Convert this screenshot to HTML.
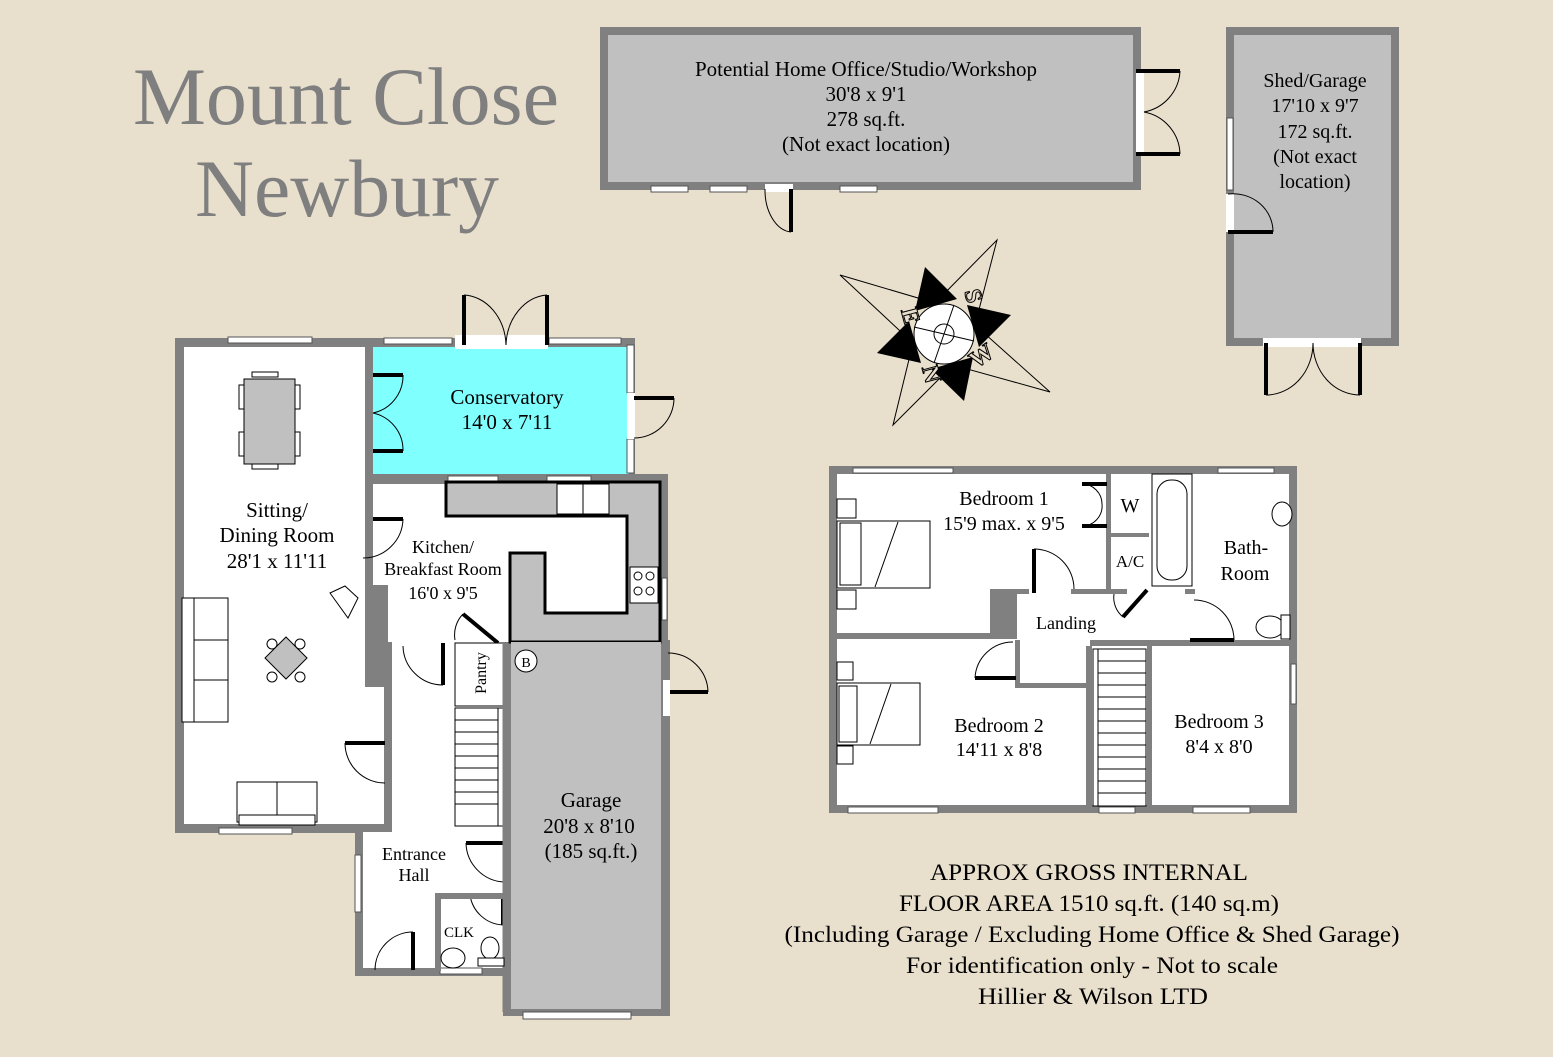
<!DOCTYPE html>
<html><head><meta charset="utf-8"><style>
html,body{margin:0;padding:0;background:#e8dfcd;}
svg{display:block}
text{font-family:"Liberation Serif",serif;fill:#000}
</style></head><body>
<svg width="1553" height="1057" viewBox="0 0 1553 1057" xmlns="http://www.w3.org/2000/svg">
<rect width="1553" height="1057" fill="#e8dfcd"/>
<text x="346" y="124" font-size="82" text-anchor="middle" style="fill:#7f7f7f" textLength="426" lengthAdjust="spacingAndGlyphs">Mount Close</text>
<text x="347" y="216" font-size="82" text-anchor="middle" style="fill:#7f7f7f" textLength="304" lengthAdjust="spacingAndGlyphs">Newbury</text>

<!-- Office -->
<rect x="604" y="31" width="533" height="155" fill="#c0c0c0" stroke="#808080" stroke-width="8"/>
<g fill="#fff" stroke="#555" stroke-width="1">
<rect x="651" y="186" width="37" height="6"/><rect x="710" y="186" width="37" height="6"/><rect x="840" y="186" width="37" height="6"/>
</g>
<rect x="765" y="184" width="28" height="8" fill="#fff"/>
<rect x="1136" y="71" width="8" height="84" fill="#fff"/>
<g stroke="#000" stroke-width="4"><line x1="1136" y1="71" x2="1180" y2="71"/><line x1="1136" y1="154" x2="1180" y2="154"/>
<line x1="791" y1="189" x2="791" y2="232"/></g>
<g fill="none" stroke="#000" stroke-width="1"><path d="M1180 71 A44 44 0 0 1 1144 112 A44 44 0 0 1 1180 154"/>
<path d="M765 189 A28 42 0 0 0 791 232"/></g>
<g font-size="21" text-anchor="middle">
<text x="866" y="76">Potential Home Office/Studio/Workshop</text>
<text x="866" y="101">30'8 x 9'1</text>
<text x="866" y="126">278 sq.ft.</text>
<text x="866" y="151">(Not exact location)</text>
</g>

<!-- Shed -->
<rect x="1230" y="31" width="165" height="311" fill="#c0c0c0" stroke="#808080" stroke-width="8"/>
<rect x="1227" y="118" width="6" height="72" fill="#fff" stroke="#555" stroke-width="1"/>
<rect x="1226" y="194" width="8" height="38" fill="#fff"/>
<line x1="1228" y1="232" x2="1273" y2="232" stroke="#000" stroke-width="4"/>
<path d="M1228 194 A40 38 0 0 1 1273 232" fill="none" stroke="#000"/>
<rect x="1263" y="338" width="98" height="9" fill="#fff"/>
<g stroke="#000" stroke-width="4"><line x1="1266" y1="343" x2="1266" y2="395"/><line x1="1360" y1="343" x2="1360" y2="395"/></g>
<path d="M1266 395 A47 52 0 0 0 1313 343 A47 52 0 0 0 1360 395" fill="none" stroke="#000"/>
<g font-size="20" text-anchor="middle">
<text x="1315" y="87">Shed/Garage</text>
<text x="1315" y="112">17'10 x 9'7</text>
<text x="1315" y="138">172 sq.ft.</text>
<text x="1315" y="163">(Not exact</text>
<text x="1315" y="188">location)</text>
</g>

<!-- Compass -->
<polygon points="997,240 975,325 1050,392 953,365 893,425 913,343 840,275 935,303" fill="#e8dfcd"/>
<g fill="#000">
<polygon points="925,267 957,299 915,311"/>
<polygon points="1011,315 979,347 967,305"/>
<polygon points="964,401 931,369 973,357"/>
<polygon points="877,353 909,321 921,363"/>
</g>
<polygon points="997,240 975,325 1050,392 953,365 893,425 913,343 840,275 935,303" fill="none" stroke="#000" stroke-width="1"/>
<g stroke="#000" stroke-width="1">
<circle cx="944" cy="334" r="30" fill="#fff"/>
<circle cx="944" cy="334" r="10" fill="none"/>
<line x1="914" y1="327" x2="974" y2="341"/><line x1="954" y1="305" x2="934" y2="363"/>
</g>
<g font-size="24" font-weight="bold" text-anchor="middle">
<text x="966" y="298" transform="rotate(75 966 298)" style="fill:#e8dfcd;stroke:#000;stroke-width:1">S</text>
<text x="903" y="318" transform="rotate(75 903 318)" style="fill:#e8dfcd;stroke:#000;stroke-width:1">E</text>
<text x="924" y="376" transform="rotate(75 924 376)" style="fill:#e8dfcd;stroke:#000;stroke-width:1">N</text>
<text x="986" y="362" transform="rotate(-35 986 362)" style="fill:#e8dfcd;stroke:#000;stroke-width:1">W</text>
</g>

<!-- GROUND FLOOR -->
<g fill="#808080">
<rect x="175" y="338" width="200" height="494"/>
<rect x="175" y="824" width="217" height="9"/>
<rect x="365" y="338" width="270" height="10"/>
<rect x="365" y="474" width="300" height="10"/>
<rect x="655" y="474" width="13" height="170"/>
<rect x="355" y="828" width="8" height="147"/>
<rect x="355" y="968" width="155" height="8"/>
<rect x="503" y="640" width="167" height="376"/>
<rect x="365" y="585" width="27" height="248"/>
</g>
<rect x="184" y="347" width="181" height="477" fill="#fff"/>
<rect x="184" y="687" width="200" height="137" fill="#fff"/>
<rect x="373" y="484" width="282" height="101" fill="#fff"/>
<rect x="388" y="585" width="267" height="57" fill="#fff"/>
<rect x="392" y="640" width="113" height="192" fill="#fff"/>
<rect x="363" y="832" width="142" height="136" fill="#fff"/>
<rect x="365" y="585" width="23" height="102" fill="#808080"/>
<rect x="373" y="347" width="256" height="127" fill="#80ffff"/>
<rect x="629" y="345" width="6" height="130" fill="#808080"/>
<g fill="#fff" stroke="#555" stroke-width="1">
<rect x="228" y="337" width="84" height="6"/>
<rect x="384" y="338" width="68" height="6"/><rect x="549" y="338" width="72" height="6"/>
<rect x="627" y="345" width="7" height="48"/><rect x="627" y="439" width="7" height="34"/>
<rect x="448" y="476" width="50" height="5"/><rect x="547" y="476" width="44" height="5"/>
<rect x="662" y="578" width="5" height="42"/>
<rect x="219" y="828" width="73" height="6"/>
<rect x="355" y="855" width="6" height="57"/>
<rect x="523" y="1012" width="108" height="7"/>
<rect x="440" y="968" width="42" height="6"/>
</g>
<rect x="455" y="335" width="93" height="14" fill="#fff"/>
<rect x="627" y="393" width="8" height="46" fill="#fff"/>
<g stroke="#000" stroke-width="4">
<line x1="464" y1="295" x2="464" y2="345"/><line x1="547" y1="295" x2="547" y2="345"/>
<line x1="373" y1="375" x2="403" y2="375"/><line x1="373" y1="451" x2="403" y2="451"/>
<line x1="634" y1="398" x2="674" y2="398"/>
<line x1="373" y1="519" x2="403" y2="519"/>
<line x1="663" y1="692" x2="708" y2="692"/>
<line x1="345" y1="743" x2="385" y2="743"/>
<line x1="443" y1="643" x2="443" y2="685"/>
<line x1="466" y1="843" x2="505" y2="843"/>
<line x1="503" y1="895" x2="503" y2="925"/>
<line x1="413" y1="932" x2="413" y2="970"/>
<line x1="463" y1="614" x2="498" y2="643"/>
</g>
<rect x="663" y="680" width="7" height="36" fill="#fff"/>
<g fill="none" stroke="#000" stroke-width="1">
<path d="M464 295 A44 52 0 0 1 506 345 A44 52 0 0 1 547 295"/>
<path d="M403 375 A38 38 0 0 1 373 413 A38 38 0 0 1 403 451"/>
<path d="M674 398 A40 40 0 0 1 634 438"/>
<path d="M403 519 A40 40 0 0 1 363 558"/>
<path d="M708 692 A40 40 0 0 0 668 653"/>
<path d="M345 743 A40 40 0 0 0 385 783"/>
<path d="M443 685 A40 40 0 0 1 403 646"/>
<path d="M466 843 A40 40 0 0 0 505 882"/>
<path d="M503 925 A35 35 0 0 1 470 895"/>
<path d="M413 932 A38 38 0 0 0 375 970"/>
<path d="M463 614 A30 30 0 0 0 455 640"/>
</g>
<polygon points="446,482 660,482 660,642 510,642 510,553 545,553 545,613 627,613 627,516 446,516" fill="#c0c0c0" stroke="#000" stroke-width="3"/>
<rect x="557" y="484" width="52" height="30" fill="#fff" stroke="#000"/>
<line x1="583" y1="484" x2="583" y2="514" stroke="#000"/>
<rect x="630" y="567" width="28" height="36" fill="#fff" stroke="#000"/>
<g fill="none" stroke="#000"><circle cx="638" cy="576" r="4"/><circle cx="650" cy="576" r="4"/><circle cx="638" cy="591" r="4"/><circle cx="650" cy="591" r="4"/></g>
<rect x="511" y="642" width="150" height="367" fill="#c0c0c0"/>
<circle cx="526" cy="661" r="11" fill="#fff" stroke="#000"/><text x="526" y="667" font-size="14" text-anchor="middle">B</text>
<rect x="455" y="643" width="50" height="63" fill="#fff" stroke="#000"/>
<g stroke="#000" fill="none"><rect x="455" y="708" width="48" height="118"/><line x1="498" y1="708" x2="498" y2="826"/>
<line x1="455" y1="720" x2="498" y2="720"/><line x1="455" y1="732" x2="498" y2="732"/><line x1="455" y1="744" x2="498" y2="744"/><line x1="455" y1="756" x2="498" y2="756"/><line x1="455" y1="768" x2="498" y2="768"/><line x1="455" y1="780" x2="498" y2="780"/><line x1="455" y1="792" x2="498" y2="792"/><line x1="455" y1="804" x2="498" y2="804"/></g>
<line x1="505" y1="643" x2="505" y2="1012" stroke="#808080" stroke-width="5"/>
<text x="486" y="673" font-size="16" text-anchor="middle" transform="rotate(-90 486 673)">Pantry</text>
<rect x="435" y="893" width="70" height="6" fill="#808080"/>
<rect x="435" y="893" width="6" height="78" fill="#808080"/>
<ellipse cx="453" cy="958" rx="12" ry="10" fill="#fff" stroke="#000"/>
<ellipse cx="490" cy="948" rx="9" ry="11" fill="#fff" stroke="#000"/>
<rect x="478" y="958" width="26" height="8" fill="#fff" stroke="#000"/>
<g stroke="#000" fill="#fff">
<rect x="252" y="372" width="26" height="5"/><rect x="252" y="464" width="26" height="5"/>
<rect x="239" y="385" width="5" height="24"/><rect x="239" y="432" width="5" height="24"/>
<rect x="295" y="385" width="5" height="24"/><rect x="295" y="432" width="5" height="24"/>
<rect x="244" y="379" width="51" height="85" fill="#c0c0c0"/>
<rect x="182" y="598" width="46" height="43"/><rect x="182" y="640" width="46" height="40"/><rect x="182" y="680" width="46" height="42"/>
<rect x="182" y="598" width="12" height="124"/>
<rect x="237" y="782" width="40" height="40"/><rect x="277" y="782" width="40" height="40"/>
<rect x="239" y="815" width="76" height="10"/>
<polygon points="330,593 345,586 358,598 348,618" fill="#fff"/>
<polygon points="286,637 307,658 286,679 265,658" fill="#c0c0c0"/>
<circle cx="272" cy="644" r="5"/><circle cx="300" cy="644" r="5"/><circle cx="272" cy="677" r="5"/><circle cx="300" cy="677" r="5"/>
</g>
<g font-size="21" text-anchor="middle">
<text x="507" y="404">Conservatory</text>
<text x="507" y="429">14'0 x 7'11</text>
<text x="277" y="517">Sitting/</text>
<text x="277" y="542">Dining Room</text>
<text x="277" y="568">28'1 x 11'11</text>
<text x="591" y="807">Garage</text>
<text x="589" y="833">20'8 x 8'10</text>
<text x="591" y="858">(185 sq.ft.)</text>
</g>
<g font-size="18" text-anchor="middle">
<text x="443" y="553">Kitchen/</text>
<text x="443" y="575">Breakfast Room</text>
<text x="443" y="599">16'0 x 9'5</text>
<text x="414" y="860">Entrance</text>
<text x="414" y="881">Hall</text>
</g>
<text x="459" y="937" font-size="15" text-anchor="middle">CLK</text>

<!-- FIRST FLOOR -->
<rect x="829" y="466" width="468" height="347" fill="#808080"/>
<rect x="837" y="474" width="452" height="331" fill="#fff"/>
<g fill="#808080">
<rect x="837" y="633" width="153" height="6"/>
<rect x="990" y="589" width="27" height="50"/>
<rect x="1106" y="474" width="5" height="120"/>
<rect x="1107" y="533" width="42" height="4"/>
<rect x="1107" y="589" width="20" height="5"/>
<rect x="1071" y="589" width="35" height="5"/>
<rect x="1017" y="589" width="12" height="5"/>
<rect x="1185" y="589" width="10" height="5"/>
<rect x="1190" y="640" width="99" height="6"/>
<rect x="1147" y="646" width="5" height="159"/>
<rect x="1015" y="683" width="75" height="5"/>
<rect x="1015" y="640" width="5" height="45"/>
<rect x="1086" y="646" width="6" height="160"/>
<rect x="1090" y="640" width="100" height="6"/>
</g>
<g fill="#fff" stroke="#555" stroke-width="1">
<rect x="853" y="468" width="100" height="5"/><rect x="1218" y="468" width="56" height="5"/>
<rect x="848" y="807" width="90" height="6"/><rect x="1099" y="807" width="36" height="6"/><rect x="1193" y="807" width="57" height="6"/>
<rect x="1291" y="664" width="5" height="40"/>
</g>
<g stroke="#000" stroke-width="4">
<line x1="1082" y1="484" x2="1107" y2="484"/><line x1="1082" y1="526" x2="1107" y2="526"/>
<line x1="1034" y1="549" x2="1034" y2="593"/>
<line x1="975" y1="678" x2="1016" y2="678"/>
<line x1="1190" y1="640" x2="1234" y2="640"/>
<line x1="1147" y1="590" x2="1123" y2="617"/>
</g>
<g fill="none" stroke="#000">
<path d="M1082 484 A20 20 0 0 1 1102 504 A20 20 0 0 1 1082 526"/>
<path d="M1034 549 A40 40 0 0 1 1074 589"/>
<path d="M975 678 A38 38 0 0 1 1013 642"/>
<path d="M1234 640 A40 40 0 0 0 1194 600"/>
<path d="M1114 594 A25 25 0 0 0 1123 617"/>
</g>
<rect x="1152" y="474" width="40" height="112" fill="#fff" stroke="#000"/>
<rect x="1157" y="480" width="30" height="100" rx="14" fill="none" stroke="#000"/>
<ellipse cx="1282" cy="514" rx="10" ry="12" fill="#fff" stroke="#000"/>
<ellipse cx="1270" cy="627" rx="14" ry="11" fill="#fff" stroke="#000"/>
<rect x="1281" y="615" width="9" height="24" fill="#fff" stroke="#000"/>
<g stroke="#000" fill="#fff">
<rect x="1093" y="649" width="53" height="157"/><line x1="1098" y1="649" x2="1098" y2="806"/>
<line x1="1098" y1="661" x2="1146" y2="661"/><line x1="1098" y1="673" x2="1146" y2="673"/><line x1="1098" y1="685" x2="1146" y2="685"/><line x1="1098" y1="697" x2="1146" y2="697"/><line x1="1098" y1="709" x2="1146" y2="709"/><line x1="1098" y1="721" x2="1146" y2="721"/><line x1="1098" y1="733" x2="1146" y2="733"/><line x1="1098" y1="745" x2="1146" y2="745"/><line x1="1098" y1="757" x2="1146" y2="757"/><line x1="1098" y1="769" x2="1146" y2="769"/><line x1="1098" y1="781" x2="1146" y2="781"/><line x1="1098" y1="793" x2="1146" y2="793"/>
</g>
<g stroke="#000" fill="#fff">
<rect x="837" y="499" width="19" height="19"/><rect x="837" y="590" width="19" height="19"/>
<rect x="837" y="521" width="93" height="67"/><rect x="840" y="523" width="21" height="62"/>
<line x1="898" y1="522" x2="875" y2="587"/>
<rect x="837" y="662" width="16" height="18"/><rect x="837" y="746" width="16" height="18"/>
<rect x="837" y="683" width="83" height="62"/><rect x="839" y="686" width="18" height="56"/>
<line x1="891" y1="684" x2="870" y2="744"/>
</g>
<g font-size="20" text-anchor="middle">
<text x="1004" y="505">Bedroom 1</text>
<text x="1004" y="530">15'9 max. x 9'5</text>
<text x="1130" y="512">W</text>
<text x="1246" y="554">Bath-</text>
<text x="1245" y="580">Room</text>
<text x="999" y="732">Bedroom 2</text>
<text x="999" y="756">14'11 x 8'8</text>
<text x="1219" y="728">Bedroom 3</text>
<text x="1219" y="753">8'4 x 8'0</text>
</g>
<text x="1130" y="567" font-size="17" text-anchor="middle">A/C</text>
<text x="1066" y="629" font-size="18" text-anchor="middle">Landing</text>

<g font-size="23" text-anchor="middle">
<text x="1089" y="880" textLength="318" lengthAdjust="spacingAndGlyphs">APPROX GROSS INTERNAL</text>
<text x="1089" y="911" textLength="380" lengthAdjust="spacingAndGlyphs">FLOOR AREA 1510 sq.ft. (140 sq.m)</text>
<text x="1092" y="942" textLength="615" lengthAdjust="spacingAndGlyphs">(Including Garage / Excluding Home Office &amp; Shed Garage)</text>
<text x="1092" y="973" textLength="372" lengthAdjust="spacingAndGlyphs">For identification only -  Not to scale</text>
<text x="1093" y="1004" textLength="230" lengthAdjust="spacingAndGlyphs">Hillier &amp; Wilson LTD</text>
</g>
</svg>
</body></html>
